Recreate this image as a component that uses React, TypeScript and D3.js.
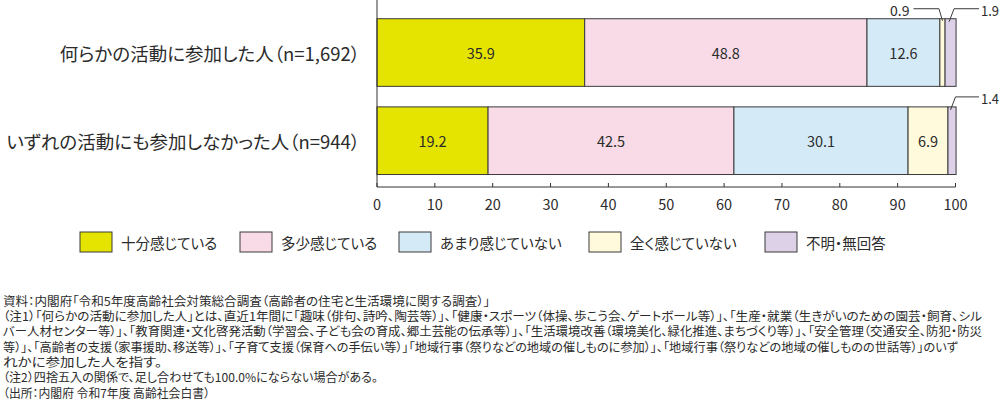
import React from "react";
import * as d3 from "d3";

const categories = [
  "何らかの活動に参加した人（n=1,692）",
  "いずれの活動にも参加しなかった人（n=944）",
];
const seriesNames = ["十分感じている", "多少感じている", "あまり感じていない", "全く感じていない", "不明・無回答"];
const valuesSufficient = [35.9, 19.2];
const valuesSomewhat = [48.8, 42.5];
const valuesNotMuch = [12.6, 30.1];
const valuesNotAtAll = [0.9, 6.9];
const valuesUnknown = [1.9, 1.4];
const tickValues = [0, 10, 20, 30, 40, 50, 60, 70, 80, 90, 100];
const colors = ["#e5e400", "#f8dbe6", "#d5eaf7", "#fffadb", "#ddd1e8"];

const noteLines = [
  "資料：内閣府「令和5年度高齢社会対策総合調査（高齢者の住宅と生活環境に関する調査）」",
  "（注1）「何らかの活動に参加した人」とは、直近1年間に「趣味（俳句、詩吟、陶芸等）」、「健康・スポーツ（体操、歩こう会、ゲートボール等）」、「生産・就業（生きがいのための園芸・飼育、シル",
  "バー人材センター等）」、「教育関連・文化啓発活動（学習会、子ども会の育成、郷土芸能の伝承等）」、「生活環境改善（環境美化、緑化推進、まちづくり等）」、「安全管理（交通安全、防犯・防災",
  "等）」、「高齢者の支援（家事援助、移送等）」、「子育て支援（保育への手伝い等）」「地域行事（祭りなどの地域の催しものに参加）」、「地域行事（祭りなどの地域の催しものの世話等）」のいず",
  "れかに参加した人を指す。",
  "（注2）四捨五入の関係で、足し合わせても100.0%にならない場合がある。",
  "（出所：内閣府 令和7年度 高齢社会白書）",
];
const noteWidths = [490, 982, 982, 958, 162, 378, 210];

const FONT = "'Noto Sans CJK JP', 'Noto Sans', sans-serif";
const TXT = "#2b2b2b";
const PALT = { fontFeatureSettings: '"palt"' } as React.CSSProperties;

export default function App() {
  const allSeries = [valuesSufficient, valuesSomewhat, valuesNotMuch, valuesNotAtAll, valuesUnknown];
  const rows = categories.map((c, i) => {
    const r: any = { category: c };
    seriesNames.forEach((s, j) => (r[s] = allSeries[j][i]));
    return r;
  });
  const stacked = d3.stack<any>().keys(seriesNames)(rows);

  const x = d3.scaleLinear().domain([0, 100]).range([377, 955.5]);
  const y = d3
    .scaleBand<string>()
    .domain(categories)
    .range([0, 187])
    .paddingInner(0.233)
    .paddingOuter(0.177)
    .align(0.6);
  const bw = y.bandwidth();
  const axisY = 187;

  const legendX = [80, 240, 399, 589, 765];

  return (
    <svg
      width={1000}
      height={406}
      style={{ position: "absolute", left: 0, top: 0, background: "#fff" }}
      fontFamily={FONT}
    >
      {categories.map((c) => (
        <text
          key={c}
          x={360}
          y={(y(c) as number) + bw / 2}
          textAnchor="end"
          dominantBaseline="central"
          fontSize={18.5}
          fill={TXT}
          style={PALT}
        >
          {c}
        </text>
      ))}

      {stacked.map((layer, li) =>
        layer.map((d, i) => {
          const cat = categories[i];
          const x0 = x(d[0]);
          const x1 = x(d[1]);
          const val = allSeries[li][i];
          return (
            <g key={`${li}-${i}`}>
              <rect
                x={x0}
                y={y(cat)}
                width={x1 - x0}
                height={bw}
                fill={colors[li]}
                stroke="#3a3a3a"
                strokeWidth={1}
              />
              {val >= 5 && (
                <text
                  x={(x0 + x1) / 2}
                  y={(y(cat) as number) + bw / 2}
                  textAnchor="middle"
                  dominantBaseline="central"
                  fontSize={14.5}
                  fill={TXT}
                >
                  {val.toFixed(1)}
                </text>
              )}
            </g>
          );
        })
      )}

      {stacked.map((layer, li) =>
        layer.map((d, i) => {
          const val = allSeries[li][i];
          if (val >= 5) return null;
          const cat = categories[i];
          const cx = (x(d[0]) + x(d[1])) / 2;
          const top = y(cat) as number;
          const hy = top - 10;
          const isLeft = li === 3;
          if (isLeft) {
            const topX = cx - 3.5;
            const endX = cx - 29;
            return (
              <g key={`ann-${li}-${i}`}>
                <polyline
                  points={`${cx},${top + 2} ${topX},${hy} ${endX},${hy}`}
                  fill="none"
                  stroke="#3a3a3a"
                  strokeWidth={1}
                />
                <text x={endX - 4} y={hy + 1} textAnchor="end" dominantBaseline="central" fontSize={14} fill={TXT}>
                  {val.toFixed(1)}
                </text>
              </g>
            );
          }
          const bx = cx - 1.5;
          const tx = cx + 3.5;
          return (
            <g key={`ann-${li}-${i}`}>
              <polyline
                points={`${bx},${top + 3} ${tx},${hy} ${979},${hy}`}
                fill="none"
                stroke="#3a3a3a"
                strokeWidth={1}
              />
              <text
                x={999}
                y={hy + 1}
                textAnchor="end"
                dominantBaseline="central"
                fontSize={14}
                fill={TXT}
                textLength={18}
                lengthAdjust="spacingAndGlyphs"
              >
                {val.toFixed(1)}
              </text>
            </g>
          );
        })
      )}

      <line x1={377} x2={377} y1={0} y2={axisY} stroke="#333" strokeWidth={1} />
      <line x1={377} x2={x(100)} y1={axisY} y2={axisY} stroke="#333" strokeWidth={1} />
      {tickValues.map((t) => (
        <g key={t}>
          <line x1={x(t)} x2={x(t)} y1={axisY} y2={axisY - 4} stroke="#333" strokeWidth={1} />
          <text x={x(t)} y={203} textAnchor="middle" dominantBaseline="central" fontSize={14.5} fill={TXT}>
            {t}
          </text>
        </g>
      ))}

      {seriesNames.map((s, i) => (
        <g key={s}>
          <rect x={legendX[i]} y={232} width={32} height={20} fill={colors[i]} stroke="#3a3a3a" strokeWidth={1} />
          <text x={legendX[i] + 41} y={242} dominantBaseline="central" fontSize={14.5} fill={TXT} style={PALT}>
            {s}
          </text>
        </g>
      ))}

      {noteLines.map((line, i) => (
        <text
          key={i}
          x={3}
          y={300 + i * 15.35}
          dominantBaseline="central"
          fontSize={12}
          fill={TXT}
          style={PALT}
          textLength={noteWidths[i] - 3}
          lengthAdjust="spacingAndGlyphs"
        >
          {line}
        </text>
      ))}
    </svg>
  );
}
